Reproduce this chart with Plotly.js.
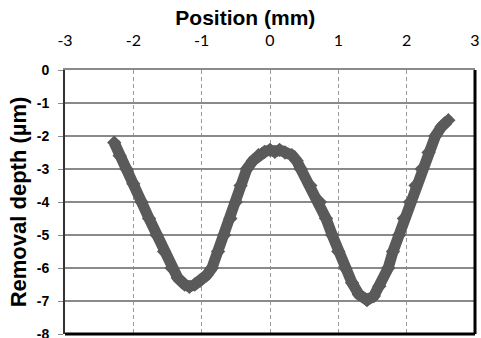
<!DOCTYPE html>
<html>
<head>
<meta charset="utf-8">
<script src="https://cdn.plot.ly/plotly-3.0.1.min.js"></script>
<style>html,body{margin:0;padding:0;background:#fff;}#chart{width:481px;height:338px;}</style>
</head>
<body>
<div id="chart"></div>
<script>
const positionMm = [-2.28,-2.2,-2.1,-2.0,-1.88,-1.77,-1.66,-1.55,-1.44,-1.35,-1.25,-1.18,-1.1,-1.02,-0.93,-0.85,-0.76,-0.67,-0.58,-0.50,-0.43,-0.34,-0.25,-0.17,-0.08,0.0,0.07,0.14,0.22,0.32,0.39,0.45,0.59,0.73,0.82,0.91,1.0,1.10,1.2,1.3,1.42,1.52,1.6,1.73,1.80,1.89,1.96,2.05,2.13,2.22,2.32,2.42,2.51,2.61];
const removalDepth = [-2.2,-2.6,-3.0,-3.45,-4.0,-4.5,-5.0,-5.5,-6.0,-6.3,-6.5,-6.57,-6.5,-6.38,-6.22,-6.0,-5.5,-5.0,-4.5,-4.0,-3.5,-3.0,-2.75,-2.58,-2.48,-2.42,-2.48,-2.42,-2.5,-2.58,-2.75,-3.0,-3.5,-4.0,-4.5,-5.0,-5.5,-6.0,-6.45,-6.8,-6.97,-6.85,-6.55,-6.0,-5.5,-5.0,-4.5,-4.0,-3.5,-3.0,-2.5,-2.0,-1.72,-1.52];
const xTicks = [-3,-2,-1,0,1,2,3];
const yTicks = [0,-1,-2,-3,-4,-5,-6,-7,-8];

const trace = {
  x: positionMm, y: removalDepth,
  mode: 'lines+markers', type: 'scatter',
  line: {color: '#5a5a5a', width: 11, shape: 'linear'},
  marker: {symbol: 'diamond', size: 11, color: '#5a5a5a'},
  hoverinfo: 'skip', showlegend: false, cliponaxis: false
};

const layout = {
  width: 481, height: 338,
  margin: {l: 65, r: 6, t: 70, b: 4},
  paper_bgcolor: '#fff', plot_bgcolor: '#fff',
  title: {text: '<b>Position (mm)</b>', x: 0.51, xref: 'container', xanchor: 'center',
          y: 0.947, yref: 'container', yanchor: 'middle',
          font: {family: 'Liberation Sans, Arial, sans-serif', size: 21, color: '#000'}},
  xaxis: {
    side: 'top', range: [-3, 3], tickvals: xTicks, ticktext: xTicks.map(String),
    showgrid: true, gridcolor: '#9a9a9a', gridwidth: 1, griddash: '4px,3px',
    zeroline: false, showline: true, linecolor: '#8a8a8a', linewidth: 2,
    ticks: '', ticklabelstandoff: 16, ticklabeloverflow: 'allow',
    tickfont: {family: 'Lato, Open Sans, sans-serif', size: 16, color: '#000'},
    fixedrange: true
  },
  yaxis: {
    range: [-8, 0], tickvals: yTicks, ticktext: yTicks.map(String),
    showgrid: true, gridcolor: '#8a8a8a', gridwidth: 1.5,
    zeroline: false, showline: true, linecolor: '#333', linewidth: 2,
    ticks: 'outside', ticklen: 5, tickcolor: '#8a8a8a', ticklabelstandoff: 6,
    ticklabeloverflow: 'allow',
    tickfont: {family: 'Liberation Sans, Arial, sans-serif', size: 14, color: '#000', weight: 'bold'},
    title: {text: '<b>Removal depth (µm)</b>', standoff: 4,
            font: {family: 'Liberation Sans, Arial, sans-serif', size: 22, color: '#000'}},
    fixedrange: true
  },
  shapes: [
    {type: 'line', xref: 'paper', yref: 'paper', x0: 0, x1: 1, y0: 0, y1: 0, line: {color: '#000', width: 3}},
    {type: 'line', xref: 'paper', yref: 'paper', x0: 1, x1: 1, y0: 0, y1: 1, line: {color: '#000', width: 3}}
  ]
};

Plotly.newPlot('chart', [trace], layout, {displayModeBar: false, staticPlot: true});
</script>
</body>
</html>
